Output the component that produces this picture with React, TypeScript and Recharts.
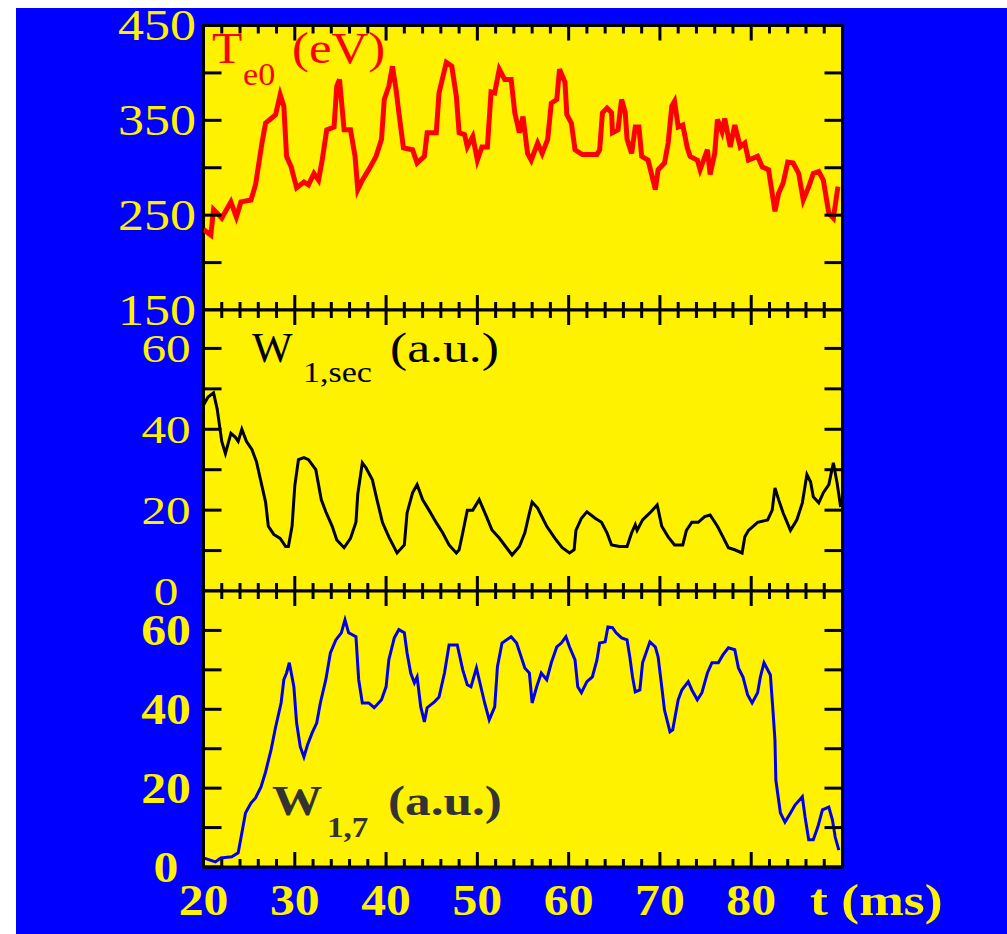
import React from 'react';
import { LineChart, Line, XAxis, YAxis, ReferenceArea } from 'recharts';

// ---------- data ----------
const teTimes = [20.0,20.8,21.1,22.0,23.0,23.6,24.1,25.2,25.7,26.4,26.8,27.9,28.4,28.8,29.1,29.6,30.2,31.0,31.5,32.1,32.6,33.0,33.5,34.3,34.6,34.9,35.4,36.1,36.6,36.9,37.4,38.1,38.9,39.5,39.8,40.3,40.7,41.1,41.4,41.9,42.9,43.4,44.2,44.5,45.5,45.8,46.6,47.2,47.7,48.0,48.6,48.9,49.5,50.0,50.5,51.1,51.5,51.9,52.4,53.0,53.7,54.1,54.6,55.0,55.5,55.9,56.6,57.1,57.7,58.1,58.7,59.0,59.6,59.8,60.3,60.7,61.5,63.1,63.4,63.7,64.2,64.7,64.8,65.4,65.8,66.2,66.4,66.9,67.3,67.7,68.0,68.7,69.5,69.8,70.5,70.9,71.3,71.6,72.0,72.5,73.0,73.3,74.1,74.4,75.2,75.5,76.0,76.3,76.8,77.1,77.7,78.2,78.8,79.3,79.7,80.7,81.2,81.9,82.3,82.6,83.0,83.5,84.0,84.6,85.2,85.7,86.3,86.8,87.4,87.9,88.5,89.0,89.5];
const teValues = [235,229,256,247,264,248,264,266,282,326,347,356,377,365,312,301,279,285,282,294,287,308,340,343,386,393,340,340,312,277,287,298,312,330,372,386,407,382,358,321,319,305,312,337,337,379,411,407,375,337,335,322,333,308,322,322,380,379,404,393,393,358,337,354,315,308,326,315,330,368,372,404,390,356,347,319,314,314,319,358,363,358,337,340,372,358,330,315,343,343,312,308,277,298,305,326,365,370,343,345,321,312,308,298,319,293,315,351,338,352,322,345,322,326,308,312,301,298,273,254,273,284,306,305,294,266,280,294,296,287,252,247,280];

const wsecTimes = [20.0,20.5,21.1,21.5,22.0,22.4,23.0,23.5,23.8,24.2,24.7,25.3,25.8,26.4,26.8,27.1,27.7,28.4,29.0,29.3,29.7,30.0,30.4,31.0,31.5,32.3,32.9,33.4,34.1,34.6,35.4,36.1,36.7,36.9,37.4,37.8,38.5,39.0,39.6,40.3,41.2,42.0,42.3,42.9,43.4,44.0,44.7,45.5,46.2,46.9,47.7,48.0,48.4,48.9,49.5,50.2,51.0,51.6,52.4,53.8,54.6,55.2,55.7,56.0,56.6,57.6,58.5,59.3,60.1,60.6,60.8,61.4,62.0,62.9,63.6,64.2,64.7,65.6,66.4,66.9,67.3,67.5,68.1,68.9,69.7,70.2,70.9,71.6,72.5,72.9,73.5,74.2,74.9,75.5,76.3,76.9,77.5,78.2,79.0,79.3,79.7,80.7,81.8,82.3,82.6,83.0,83.5,84.3,85.0,85.6,86.1,86.5,86.8,87.4,87.9,88.5,89.0,89.4,89.8];
const wsecValues = [46,48,49,45,37,34,39,38,37,40,37,35,32,26,22,16,14,13,11,11,16,26,32.5,33,32.5,30,22.6,19.6,16,12.6,10.7,13,17,24,31.7,30.5,27.5,22.6,17,13.4,9.4,11.4,19.3,24.3,26.3,22.6,20,16.9,14.4,11.4,9.4,10.2,14.4,20,20,22.6,18.4,15.1,13.1,8.9,11,14.4,19.3,22,20.5,16,13,10.7,9.4,10.2,15,18,19.6,18,17,14.4,11.4,11,11,14.4,16.4,15,17.6,19.3,21.3,16,13.4,11.4,11.4,15,17,17,18.4,18.8,16,13.4,10.7,10.2,9.4,13.4,15,17,17.6,20,25.5,22.6,19.3,15,17.6,21.8,28.8,27,23.3,21.8,24.3,26.3,31.7,26.8,20.8];

const w17Times = [20.0,21.3,21.9,23.1,23.8,24.2,24.6,25.2,25.7,26.3,26.8,27.4,27.9,28.5,28.8,29.1,29.4,29.9,30.2,30.6,31.0,31.4,31.9,32.4,32.8,33.4,33.9,34.5,35.1,35.5,35.9,36.7,37.0,37.4,38.1,38.7,39.5,40.0,40.3,40.9,41.4,42.0,42.3,42.7,43.1,43.4,43.8,44.2,44.5,45.3,45.8,46.4,46.9,47.8,48.4,48.9,49.3,49.9,50.2,50.8,51.3,51.9,52.2,52.7,53.7,54.3,54.8,55.2,55.7,56.0,56.5,57.0,57.6,58.1,58.7,59.2,59.7,60.1,60.7,61.0,61.4,62.0,62.6,63.1,63.4,64.0,64.3,64.8,65.2,65.8,66.4,66.7,67.0,67.3,67.8,68.1,68.9,69.5,69.8,70.2,70.5,71.1,71.4,72.0,72.4,73.1,73.5,74.1,74.6,75.2,75.7,76.4,76.9,77.5,78.2,78.6,79.1,79.6,80.1,80.7,81.0,81.4,82.1,82.4,82.6,82.7,83.2,83.7,84.3,84.8,85.6,85.9,86.3,86.8,87.3,87.8,88.5,88.9,89.2,89.6];
const w17Values = [2.3,1.3,2.3,2.6,3.6,8.6,13.7,16.2,17.5,20.3,24.1,29.7,35.5,41.6,47.5,49.2,51.8,45.7,36.5,30.5,27.9,31,34,36.5,41.6,47.5,54.3,57.6,59.4,62.7,59.4,58.4,47.5,41.6,41.6,40.4,42.4,45.7,52.5,58.1,60.2,59.4,54.3,49.2,46.7,48.2,40.6,36.8,40.4,41.9,43.1,49.2,56.3,56.3,50,46.2,45.7,50.5,47.5,41.6,37.3,40.6,50.8,56.8,58.4,56.8,53.3,50.5,49.2,41.6,45.7,49.2,47.5,51.8,55.8,56.8,58.4,55.8,52.5,45.7,44.2,47,48.2,52.5,56.8,57.1,60.9,60.7,59.4,58.1,57.6,53.3,48.2,44.4,44.9,51.8,57.1,55.8,53.3,45.7,39.8,34.3,34.8,42.4,44.9,47,44.9,42.4,44.2,49.2,51.8,51.8,53.8,55.6,55.1,50.5,48.2,43.7,41.6,44.2,48.2,51.8,48.7,39.1,32.2,22,13.7,11.4,13.7,15.7,17.8,12.7,6.9,6.9,10.2,14.5,15.2,11.9,7.6,4.3];

const xTicks = [20,22,24,26,28,30,32,34,36,38,40,42,44,46,48,50,52,54,56,58,60,62,64,66,68,70,72,74,76,78,80,82,84,86,88,90];
const xLabels = ['20','30','40','50','60','70','80'];
const xTitle = 't (ms)';
const teTicks = [150,200,250,300,350,400,450];
const teLabels = [150,250,350,450];
const wTicks = [0,10,20,30,40,50,60];
const wLabels = [0,20,40,60];

const teData = teTimes.map((t, i) => ({ t, v: teValues[i] }));
const wsecData = wsecTimes.map((t, i) => ({ t, v: wsecValues[i] }));
const w17Data = w17Times.map((t, i) => ({ t, v: w17Values[i] }));

// ---------- layout ----------
const CW = 991;
const CH = 926;
const PL = 187.5;
const PR = 826.5;
const PW = PR - PL;
const AX = 20;
const FONT = "'Liberation Serif','Times New Roman',Times,serif";
const YELLOW = '#FFF200';
const BLUE = '#0000FF';

function SText(props: any) {
  const { x, y, size, bold, fill, anchor, sx, children } = props;
  return (
    <text
      transform={`translate(${x},${y}) scale(${sx ?? 1.15},1)`}
      fontFamily={FONT}
      fontSize={size}
      fontWeight={bold ? 'bold' : 'normal'}
      fill={fill}
      textAnchor={anchor ?? 'start'}
    >
      {children}
    </text>
  );
}

function makeXTick(panelH: number, showLabels: boolean) {
  return (props: any) => {
    const { x, y, payload } = props;
    const v = payload.value;
    const major = v % 10 === 0;
    const len = major ? 15 : 8;
    const lbl = String(v);
    return (
      <g>
        <line x1={x} y1={y} x2={x} y2={y - len} stroke="#000" strokeWidth={3} />
        <line x1={x} y1={y - panelH} x2={x} y2={y - panelH + len} stroke="#000" strokeWidth={3} />
        {showLabels && xLabels.includes(lbl) && (
          <SText x={x} y={y + 48} size={44} bold fill={YELLOW} anchor="middle" sx={1.13}>{lbl}</SText>
        )}
        {showLabels && v === 90 && (
          <SText x={x - 32.5} y={y + 48} size={44} bold fill={YELLOW} anchor="start" sx={1.22}>{xTitle}</SText>
        )}
      </g>
    );
  };
}

function makeYTick(labels: number[], size: number, bold: boolean, dx: number, sx: number) {
  return (props: any) => {
    const { x, y, payload } = props;
    const v = payload.value;
    return (
      <g>
        <line x1={x} y1={y} x2={x + 18} y2={y} stroke="#000" strokeWidth={3} />
        <line x1={x + PW} y1={y} x2={x + PW - 18} y2={y} stroke="#000" strokeWidth={3} />
        {labels.includes(v) && (
          <SText x={x - dx} y={y + size * 0.34} size={size} bold={bold} fill={YELLOW} anchor="middle" sx={sx}>{String(v)}</SText>
        )}
      </g>
    );
  };
}

function Panel(props: any) {
  const { top, bottom, data, domain, yTicks, yTick, xLabelsOn, stroke, strokeWidth } = props;
  const H = bottom - top;
  return (
    <div style={{ position: 'absolute', left: 0, top: 0 }}>
      <LineChart
        width={CW}
        height={CH}
        margin={{ top, bottom: CH - bottom - AX, left: PL - AX, right: CW - PR }}
      >
        <XAxis
          dataKey="t"
          type="number"
          domain={[20, 90]}
          ticks={xTicks}
          interval={0}
          allowDataOverflow
          height={AX}
          tickSize={0}
          tickMargin={0}
          axisLine={false}
          tickLine={false}
          tick={makeXTick(H, xLabelsOn)}
        />
        <YAxis
          type="number"
          domain={domain}
          ticks={yTicks}
          interval={0}
          allowDataOverflow
          width={AX}
          tickSize={0}
          tickMargin={0}
          axisLine={false}
          tickLine={false}
          tick={yTick}
        />
        <ReferenceArea
          x1={20}
          x2={90}
          y1={domain[0]}
          y2={domain[1]}
          fill={YELLOW}
          fillOpacity={1}
          stroke="#000"
          strokeWidth={3}
          ifOverflow="visible"
        />
        <Line
          data={data}
          dataKey="v"
          type="linear"
          stroke={stroke}
          strokeWidth={strokeWidth}
          dot={false}
          activeDot={false}
          isAnimationActive={false}
        />
      </LineChart>
    </div>
  );
}

export default function App() {
  return (
    <div
      style={{
        position: 'fixed',
        left: 16,
        top: 8,
        width: CW,
        height: CH,
        background: BLUE,
        overflow: 'hidden',
      }}
    >
      <Panel
        top={17.5}
        bottom={302}
        data={teData}
        domain={[150, 450]}
        yTicks={teTicks}
        yTick={makeYTick(teLabels, 44, false, 46.5, 1.18)}
        xLabelsOn={false}
        stroke="#FF0000"
        strokeWidth={5}
      />
      <Panel
        top={302}
        bottom={583}
        data={wsecData}
        domain={[0, 69.5]}
        yTicks={wTicks}
        yTick={makeYTick(wLabels, 41, false, 37.5, 1.2)}
        xLabelsOn={false}
        stroke="#000000"
        strokeWidth={3}
      />
      <Panel
        top={583}
        bottom={859}
        data={w17Data}
        domain={[0, 70]}
        yTicks={wTicks}
        yTick={makeYTick(wLabels, 44, true, 37.5, 1.13)}
        xLabelsOn={true}
        stroke="#0000E8"
        strokeWidth={3}
      />
      <svg width={CW} height={CH} style={{ position: 'absolute', left: 0, top: 0, pointerEvents: 'none' }}>
        <SText x={196} y={55} size={45} fill="#FF0000" sx={1.1}>T</SText>
        <SText x={227} y={77} size={31} fill="#FF0000" sx={1.1}>e0</SText>
        <SText x={276} y={55} size={45} fill="#FF0000" sx={1.13}>(eV)</SText>

        <SText x={236} y={354} size={43} fill="#000" sx={1.0}>W</SText>
        <SText x={287} y={374} size={29} fill="#000" sx={1.17}>1,sec</SText>
        <SText x={374} y={354} size={43} fill="#000" sx={1.2}>(a.u.)</SText>

        <SText x={256} y={807} size={42} bold fill="#333333" sx={1.2}>W</SText>
        <SText x={311} y={829} size={30} bold fill="#333333" sx={1.1}>1,7</SText>
        <SText x={372} y={807} size={42} bold fill="#333333" sx={1.22}>(a.u.)</SText>
      </svg>
    </div>
  );
}
